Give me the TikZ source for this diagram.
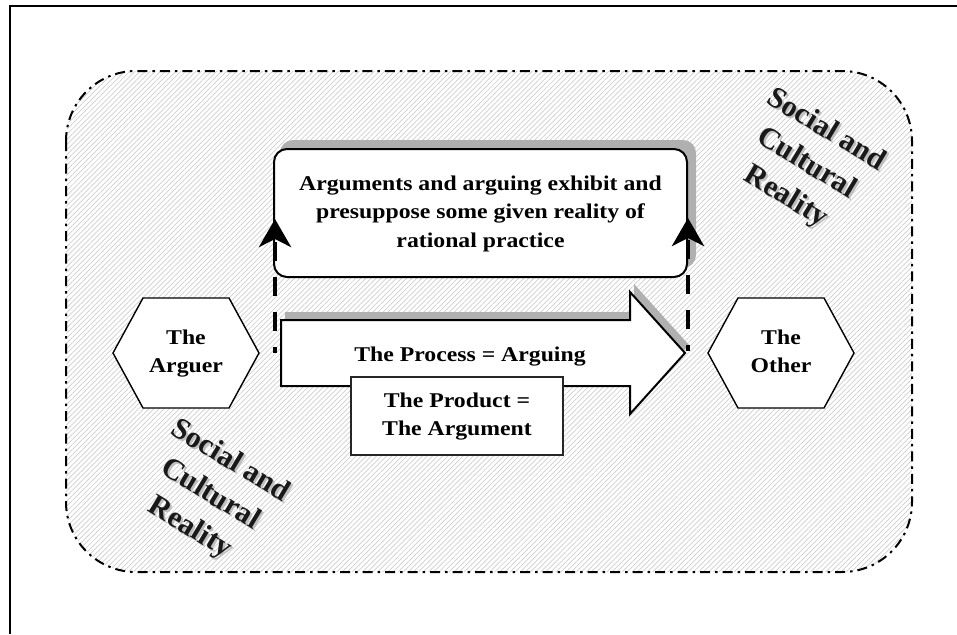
\documentclass[tikz,border=0pt]{standalone}
\usepackage{fontspec}
\usepackage{graphicx}
\setmainfont{Liberation Serif}
\usetikzlibrary{arrows.meta,patterns.meta,shadows}
\newcommand\wtext[1]{\scalebox{1.13}[1]{\begin{tabular}{@{}c@{}}#1\end{tabular}}}
\begin{document}
\begin{tikzpicture}[x=1pt,y=-1pt,
  txt/.style={font=\bfseries\fontsize{21}{28.5}\selectfont, inner sep=0pt},
  framestyle/.style={line width=1.8pt},
  region/.style={line width=2pt, dash pattern=on 10pt off 5pt on 2.5pt off 5pt,
     rounded corners=70pt, pattern={Lines[angle=45,distance=3.6pt,line width=0.7pt]},
     pattern color=gray!38},
  claimbox/.style={txt, draw, line width=2pt, fill=white, rounded corners=13pt,
     minimum width=413pt, minimum height=128pt},
  shadowfill/.style={fill=gray!62},
  blockarrow/.style={draw, line width=2pt, fill=white, miter limit=20},
  productbox/.style={txt, draw=black!85, line width=1.3pt, fill=white,
     minimum width=212pt, minimum height=78pt},
  hexstyle/.style={draw, line width=1.4pt, fill=white},
  dashconn/.style={line width=4.5pt, dash pattern=on 19pt off 16pt, dash phase=13pt,
     -{Stealth[length=28pt,width=32pt,inset=8pt]}},
  social/.style={font=\bfseries\fontsize{30}{39}\selectfont, align=center, rotate=-31,
     inner sep=0pt, text=black!90},
  socialshadow/.style={social, text=gray!50}
]
\fill[white] (0,0) rectangle (957,634);
\useasboundingbox (0,0) rectangle (957,634);
% frame
\draw[framestyle] (10,634) -- (10,6) -- (957,6);
% social and cultural region
\path[region] (66,71) rectangle (912,572);
\draw[region, pattern=none] (66,71) rectangle (912,572);

% claim box with shadow
\fill[shadowfill, rounded corners=13pt] (280,140) rectangle (696,268);
\node[claimbox] (claim) at (480.5,213)
  {\wtext{Arguments and arguing exhibit and\\presuppose some given reality of\\rational practice}};

% block arrow with shadow
\fill[shadowfill, shift={(4,-8)}] (281,320) -- (630,320) -- (630,292) -- (685,353)
   -- (630,414) -- (630,386) -- (281,386) -- cycle;
\path[blockarrow] (281,320) -- (630,320) -- (630,292) -- (685,353)
   -- (630,414) -- (630,386) -- (281,386) -- cycle;
\coordinate (tailL) at (275,353);
\coordinate (tipR) at (688,351);
\node[txt] (process) at (470,356) {\wtext{The Process = Arguing}};
\node[productbox] (product) at (457,416) {\wtext{The Product =\\The Argument}};

% dashed connectors
\draw[dashconn] (tailL) -- (tailL |- 0,219);
\draw[dashconn] (tipR) -- (tipR |- 0,218);

% hexagons
\coordinate (arguerc) at (186,353);
\draw[hexstyle] (arguerc) ++(-73,0) -- ++(30,-55) -- ++(86,0) -- ++(30,55)
   -- ++(-30,55) -- ++(-86,0) -- cycle;
\node[txt] (arguer) at (arguerc) {\wtext{The\\Arguer}};
\coordinate (otherc) at (781,353);
\draw[hexstyle] (otherc) ++(-73,0) -- ++(30,-55) -- ++(86,0) -- ++(30,55)
   -- ++(-30,55) -- ++(-86,0) -- cycle;
\node[txt] (other) at (otherc) {\wtext{The\\Other}};

% rotated labels with soft shadow
\node[socialshadow] (socialRs) at (808,166) {Social and\\Cultural\\Reality};
\node[social] (socialR) at (806,164) {Social and\\Cultural\\Reality};
\node[socialshadow] (socialLs) at (212,497) {Social and\\Cultural\\Reality};
\node[social] (socialL) at (210,495) {Social and\\Cultural\\Reality};
\end{tikzpicture}
\end{document}
